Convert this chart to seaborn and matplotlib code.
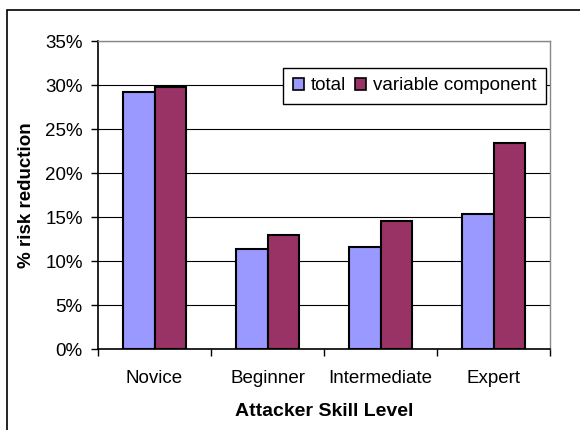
import pandas as pd
import seaborn as sns
import matplotlib.pyplot as plt
from matplotlib.patches import Rectangle
from matplotlib.ticker import PercentFormatter

# Values
levels = ['Novice', 'Beginner', 'Intermediate', 'Expert']
total = [29.2, 11.4, 11.6, 15.3]
variable = [29.8, 12.9, 14.5, 23.4]
series_names = ['total', 'variable component']
y_ticks = [0, 5, 10, 15, 20, 25, 30, 35]

df = pd.DataFrame({
    'level': levels * 2,
    'value': total + variable,
    'series': [series_names[0]] * len(levels) + [series_names[1]] * len(levels),
})

sns.set_theme(style='white')
plt.rcParams['font.family'] = ['Liberation Sans', 'DejaVu Sans']

fs = 13.5
fig = plt.figure(figsize=(5.8, 4.3), dpi=100)
ax = fig.add_axes([98 / 580, 81 / 430, 452 / 580, 308 / 430])

# outer chart frame (only left and top edges are visible in the original)
fig.patches.append(Rectangle((7 / 580, -0.1), 1.2, (420 / 430) + 0.1, transform=fig.transFigure,
                             fill=False, edgecolor='black', linewidth=1.2, zorder=0))

ax.set_axisbelow(True)
ax.yaxis.grid(True, color='black', linewidth=0.8)

sns.barplot(data=df, x='level', y='value', hue='series', order=levels, hue_order=series_names,
            palette=['#9999FF', '#993366'], saturation=1, width=0.566, gap=0, edgecolor='black',
            linewidth=1.5, ax=ax)

ax.set_ylim(0, 35)
ax.set_xlim(-0.5, len(levels) - 0.5)
ax.set_yticks(y_ticks)
ax.yaxis.set_major_formatter(PercentFormatter(decimals=0))
ax.set_xticks([i - 0.5 for i in range(len(levels) + 1)], minor=True)
ax.tick_params(axis='x', which='major', length=0, labelsize=fs, pad=15, colors='black')
ax.tick_params(axis='x', which='minor', length=5, color='black', width=1, direction='out', bottom=True)
ax.tick_params(axis='y', length=5, color='black', width=1, direction='out', left=True,
               labelsize=fs, pad=6, labelcolor='black')

for side in ['left', 'bottom']:
    ax.spines[side].set_color('black')
    ax.spines[side].set_linewidth(1.2)
for side in ['top', 'right']:
    ax.spines[side].set_color('#888888')
    ax.spines[side].set_linewidth(1.0)

# the original x label is drawn with wide letter spacing
ax.set_xlabel('Attacker Skill Level', fontsize=14, fontweight='bold', labelpad=12, color='black')
ax.set_ylabel('% risk reduction', fontsize=fs, fontweight='bold', labelpad=7, color='black')

leg = ax.legend(loc='upper left', bbox_to_anchor=(0.41, 0.912), ncol=2, fontsize=fs,
                frameon=True, fancybox=False, framealpha=1, edgecolor='black',
                handlelength=0.6, handleheight=0.6, handletextpad=0.35, columnspacing=0.5,
                borderaxespad=0, borderpad=0.5, labelcolor='black')
leg.get_frame().set_linewidth(1.0)
for h in leg.legend_handles:
    h.set_edgecolor('black')
    h.set_linewidth(1.2)

fig.savefig('out.png', dpi=100)
